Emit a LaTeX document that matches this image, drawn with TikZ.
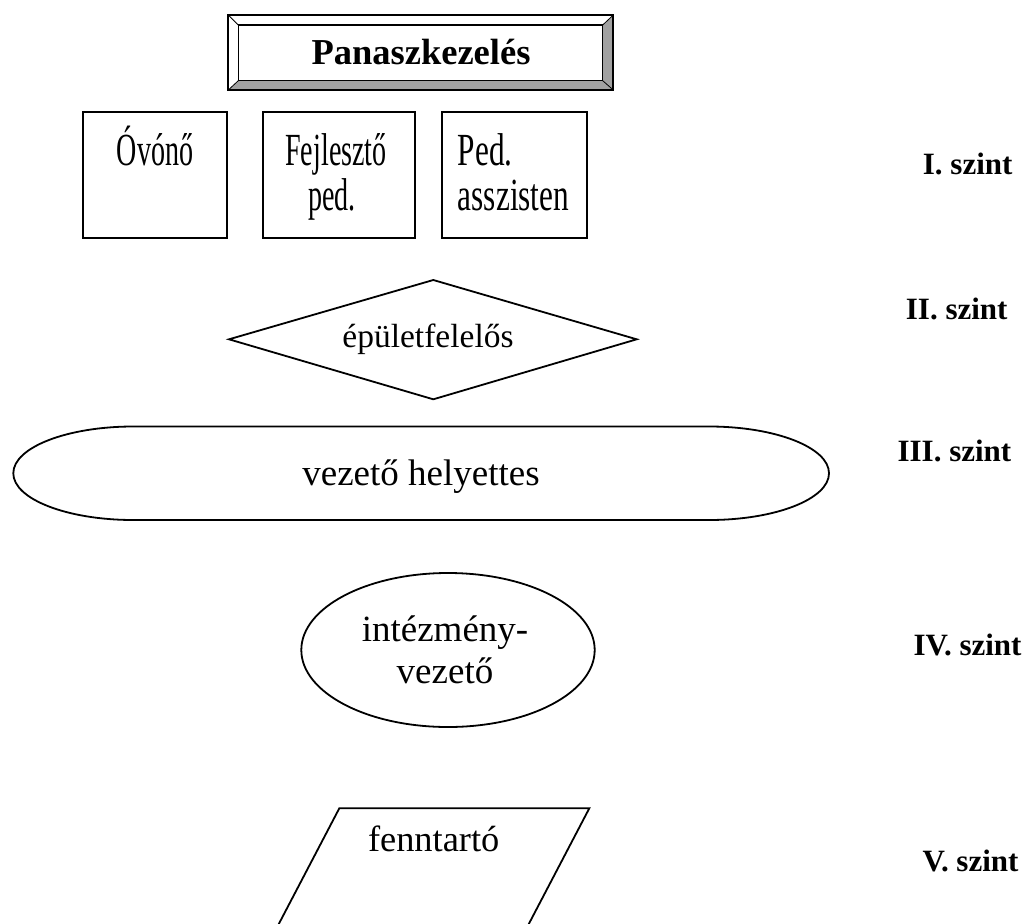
\documentclass[tikz,border=0pt]{standalone}
\usepackage{fontspec}
\setmainfont{Liberation Serif}
\usepackage{graphicx}
\begin{document}
\begin{tikzpicture}[x=1pt,y=-1pt,line width=1.8pt,
  boxtext/.style={anchor=base,inner sep=0pt,font=\fontsize{46}{50}\selectfont},
  bodytext/.style={anchor=base,inner sep=0pt},
  level/.style={anchor=base west,inner sep=0pt,font=\bfseries\fontsize{31}{36}\selectfont},
  bevel/.style={line width=0.8pt,draw=black}]
\useasboundingbox (0,0) rectangle (1032,923);
\clip (0,0) rectangle (1032,923);
% title frame
\coordinate (o1) at (228.3,15);
\coordinate (o2) at (613.3,15);
\coordinate (o3) at (613.3,90);
\coordinate (o4) at (228.3,90);
\coordinate (i1) at (238.3,25);
\coordinate (i2) at (602.7,25);
\coordinate (i3) at (602.7,80.7);
\coordinate (i4) at (238.3,80.7);
\fill[white] (o1) -- (o2) -- (i2) -- (i1) -- cycle;
\fill[white] (o1) -- (i1) -- (i4) -- (o4) -- cycle;
\fill[black!37] (o2) -- (o3) -- (i3) -- (i2) -- cycle;
\fill[black!37] (o4) -- (i4) -- (i3) -- (o3) -- cycle;
\draw[bevel] (o1) -- (i1) (o2) -- (i2) (o3) -- (i3) (o4) -- (i4);
\draw[line width=1.3pt] (i1) rectangle (i3);
\draw[line width=2pt] (o1) rectangle (o3);
\node[bodytext,font=\bfseries\fontsize{36.5}{40}\selectfont] (title) at (421,65) {Panaszkezelés};
% level I boxes
\draw (83.3,111.7) rectangle (226.7,238.3);
\draw (262.7,111.7) rectangle (415,238.3);
\draw (441.7,111.7) rectangle (586.7,238.3);
\node[boxtext] (ovono) at (155,165) {\scalebox{0.61}[1]{Óvónő}};
\node[boxtext] (fejl1) at (336,165) {\scalebox{0.61}[1]{Fejlesztő}};
\node[boxtext] (fejl2) at (332,210) {\scalebox{0.61}[1]{ped.}};
\node[boxtext,anchor=base west] (ped1) at (457,165) {\scalebox{0.68}[1]{Ped.}};
\node[boxtext,anchor=base west] (ped2) at (457,210) {\scalebox{0.68}[1]{asszisten}};
% level II diamond
\draw (229,339.3) -- (433.3,280) -- (636.7,339.3) -- (433.3,399.3) -- cycle;
\node[bodytext,font=\fontsize{33.5}{38}\selectfont] (epulet) at (428,347.3) {épületfelelős};
% level III terminator
\draw (133.3,426.5) -- (709,426.5)
  arc[start angle=-90,end angle=90,x radius=120,y radius=46.75]
  -- (133.3,520)
  arc[start angle=90,end angle=270,x radius=120,y radius=46.75] -- cycle;
\node[bodytext,font=\fontsize{37}{42}\selectfont] (helyettes) at (421,485) {vezető helyettes};
% level IV ellipse
\draw (448,650) ellipse[x radius=146.7,y radius=77];
\node[bodytext,font=\fontsize{37}{42}\selectfont] (int1) at (445,641.7) {intézmény-};
\node[bodytext,font=\fontsize{37}{42}\selectfont] (int2) at (445,683.3) {vezető};
% level V parallelogram
\draw (339.3,808.3) -- (589.3,808.3) -- (520.4,940) -- (270.4,940) -- cycle;
\node[bodytext,font=\fontsize{36.4}{42}\selectfont] (fenn) at (433.7,851.7) {fenntartó};
% level labels
\node[level] (l1) at (922,174.3) {I. szint};
\node[level] (l2) at (905,319.3) {II. szint};
\node[level] (l3) at (896.7,461.7) {III. szint};
\node[level] (l4) at (912.7,655) {IV. szint};
\node[level] (l5) at (921.7,871.7) {V. szint};
\end{tikzpicture}
\end{document}
